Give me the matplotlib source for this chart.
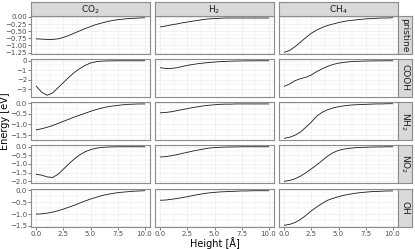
import numpy as np
import matplotlib
matplotlib.use("Agg")
import matplotlib.pyplot as plt
from matplotlib.ticker import MultipleLocator

# height grid [Angstrom]
height = [0.0, 0.5, 1.0, 1.5, 2.0, 2.5, 3.0, 3.5, 4.0, 4.5, 5.0,
          5.5, 6.0, 6.5, 7.0, 7.5, 8.0, 8.5, 9.0, 9.5, 10.0]

gases = ["CO$_2$", "H$_2$", "CH$_4$"]
surfaces = ["pristine", "COOH", "NH$_2$", "NO$_2$", "OH"]

# energy [eV], one list per (surface, gas)
pristine_co2 = [-0.77, -0.78, -0.79, -0.79, -0.77, -0.72, -0.65, -0.57, -0.49, -0.41, -0.34,
                -0.27, -0.22, -0.17, -0.13, -0.10, -0.08, -0.06, -0.05, -0.04, -0.03]
pristine_h2 = [-0.35, -0.32, -0.28, -0.25, -0.21, -0.18, -0.15, -0.12, -0.09, -0.07, -0.06,
               -0.05, -0.04, -0.04, -0.04, -0.04, -0.04, -0.04, -0.04, -0.04, -0.04]
pristine_ch4 = [-1.24, -1.17, -1.04, -0.88, -0.72, -0.57, -0.46, -0.37, -0.30, -0.25, -0.20,
                -0.16, -0.13, -0.11, -0.09, -0.07, -0.06, -0.05, -0.04, -0.04, -0.03]

cooh_co2 = [-2.70, -3.35, -3.65, -3.40, -2.85, -2.30, -1.75, -1.25, -0.85, -0.50, -0.25,
            -0.12, -0.06, -0.03, -0.02, -0.01, -0.01, -0.01, -0.01, -0.01, -0.01]
cooh_h2 = [-0.75, -0.82, -0.82, -0.75, -0.62, -0.50, -0.40, -0.32, -0.25, -0.20, -0.15,
           -0.11, -0.08, -0.06, -0.04, -0.03, -0.02, -0.02, -0.01, -0.01, -0.01]
cooh_ch4 = [-2.70, -2.45, -2.10, -1.90, -1.75, -1.50, -1.15, -0.85, -0.60, -0.40, -0.27,
            -0.18, -0.12, -0.08, -0.06, -0.04, -0.03, -0.02, -0.02, -0.01, -0.01]

nh2_co2 = [-1.25, -1.20, -1.13, -1.05, -0.95, -0.85, -0.75, -0.65, -0.56, -0.47, -0.38,
           -0.30, -0.23, -0.17, -0.13, -0.10, -0.07, -0.05, -0.04, -0.03, -0.03]
nh2_h2 = [-0.45, -0.43, -0.40, -0.35, -0.30, -0.25, -0.20, -0.16, -0.12, -0.09, -0.07,
          -0.05, -0.04, -0.04, -0.03, -0.03, -0.03, -0.03, -0.03, -0.03, -0.03]
nh2_ch4 = [-1.65, -1.60, -1.50, -1.35, -1.12, -0.88, -0.60, -0.42, -0.30, -0.22, -0.16,
           -0.12, -0.09, -0.07, -0.06, -0.05, -0.04, -0.03, -0.03, -0.02, -0.02]

no2_co2 = [-1.60, -1.65, -1.75, -1.78, -1.60, -1.30, -1.00, -0.72, -0.48, -0.30, -0.18,
           -0.10, -0.05, -0.03, -0.02, -0.01, -0.01, -0.01, -0.01, -0.01, -0.01]
no2_h2 = [-0.60, -0.58, -0.53, -0.47, -0.40, -0.33, -0.26, -0.20, -0.14, -0.09, -0.06,
          -0.04, -0.03, -0.02, -0.02, -0.01, -0.01, -0.01, -0.01, -0.01, -0.01]
no2_ch4 = [-2.00, -1.95, -1.85, -1.70, -1.50, -1.28, -1.05, -0.80, -0.55, -0.35, -0.22,
           -0.15, -0.10, -0.07, -0.05, -0.04, -0.03, -0.02, -0.02, -0.01, -0.01]

oh_co2 = [-1.00, -0.99, -0.96, -0.92, -0.86, -0.79, -0.71, -0.63, -0.54, -0.45, -0.37,
          -0.30, -0.23, -0.18, -0.14, -0.10, -0.08, -0.06, -0.04, -0.03, -0.02]
oh_h2 = [-0.42, -0.41, -0.38, -0.35, -0.31, -0.27, -0.22, -0.18, -0.14, -0.11, -0.09,
         -0.07, -0.06, -0.05, -0.04, -0.03, -0.03, -0.02, -0.02, -0.02, -0.02]
oh_ch4 = [-1.47, -1.43, -1.35, -1.22, -1.05, -0.86, -0.70, -0.55, -0.42, -0.34, -0.27,
          -0.21, -0.17, -0.13, -0.10, -0.08, -0.06, -0.05, -0.04, -0.03, -0.03]

energies = [
    [pristine_co2, pristine_h2, pristine_ch4],
    [cooh_co2, cooh_h2, cooh_ch4],
    [nh2_co2, nh2_h2, nh2_ch4],
    [no2_co2, no2_h2, no2_ch4],
    [oh_co2, oh_h2, oh_ch4],
]

# y tick steps per row (free y scales)
y_major = [0.25, 1.0, 0.5, 0.5, 0.5]
y_fmt = ["{:.2f}", "{:.0f}", "{:.1f}", "{:.1f}", "{:.1f}"]

W, H = 415, 249
fig = plt.figure(figsize=(W / 100, H / 100), dpi=100)

col_x = [31, 155, 279]
col_w = 119
row_y = [16, 59, 102, 145, 189]
row_h = 38
strip = 14

edge = "#8c8c8c"
strip_fill = "#d9d9d9"
grid_c = "#ebebeb"


def px(x, y, w, h):
    return [x / W, 1 - (y + h) / H, w / W, h / H]


def style_box(a):
    a.set_facecolor(strip_fill)
    a.set_xticks([])
    a.set_yticks([])
    for s in a.spines.values():
        s.set_color(edge)
        s.set_linewidth(0.8)


for i, surf in enumerate(surfaces):
    vals = np.array(energies[i])
    lo, hi = vals.min(), vals.max()
    pad = 0.05 * (hi - lo)
    for j, gas in enumerate(gases):
        ax = fig.add_axes(px(col_x[j], row_y[i], col_w, row_h))
        ax.plot(height, energies[i][j], color="#1a1a1a", lw=0.6)
        ax.set_xlim(-0.5, 10.5)
        ax.set_ylim(lo - pad, hi + pad)
        ax.xaxis.set_major_locator(MultipleLocator(2.5))
        ax.xaxis.set_minor_locator(MultipleLocator(1.25))
        ax.yaxis.set_major_locator(MultipleLocator(y_major[i]))
        ax.yaxis.set_minor_locator(MultipleLocator(y_major[i] / 2))
        ax.grid(which="major", color=grid_c, lw=0.5)
        ax.grid(which="minor", color=grid_c, lw=0.3)
        ax.set_axisbelow(True)
        for s in ax.spines.values():
            s.set_color(edge)
            s.set_linewidth(0.8)
        ax.tick_params(which="minor", length=0)
        ax.tick_params(which="major", length=2, width=0.5, color="#4d4d4d",
                       labelsize=5, labelcolor="#4d4d4d", pad=0.8)
        if j != 0:
            ax.tick_params(axis="y", labelleft=False, length=0)
        else:
            fmt = y_fmt[i]
            ax.yaxis.set_major_formatter(
                lambda v, p, fmt=fmt: fmt.format(v + 0.0).replace("-", "\u2212"))
        if i != len(surfaces) - 1:
            ax.tick_params(axis="x", labelbottom=False, length=0)
        else:
            ax.xaxis.set_major_formatter(lambda v, p: f"{v:.1f}")

        if i == 0:
            sax = fig.add_axes(px(col_x[j], row_y[0] - strip, col_w, strip))
            style_box(sax)
            sax.text(0.5, 0.45, gas, ha="center", va="center", fontsize=6.5,
                     color="#1a1a1a", transform=sax.transAxes)

    rax = fig.add_axes(px(col_x[2] + col_w, row_y[i], strip, row_h))
    style_box(rax)
    rax.text(0.5, 0.5, surf, ha="center", va="center", fontsize=6.5, rotation=-90,
             color="#1a1a1a", transform=rax.transAxes)

fig.text((col_x[0] + (col_x[2] + col_w)) / 2 / W, 1 - 243 / H, "Height [Å]",
         ha="center", va="center", fontsize=7)
fig.text(5.5 / W, 1 - (row_y[0] + row_y[-1] + row_h) / 2 / H, "Energy [eV]",
         ha="center", va="center", rotation=90, fontsize=7)

fig.savefig("out.png", dpi=100)
